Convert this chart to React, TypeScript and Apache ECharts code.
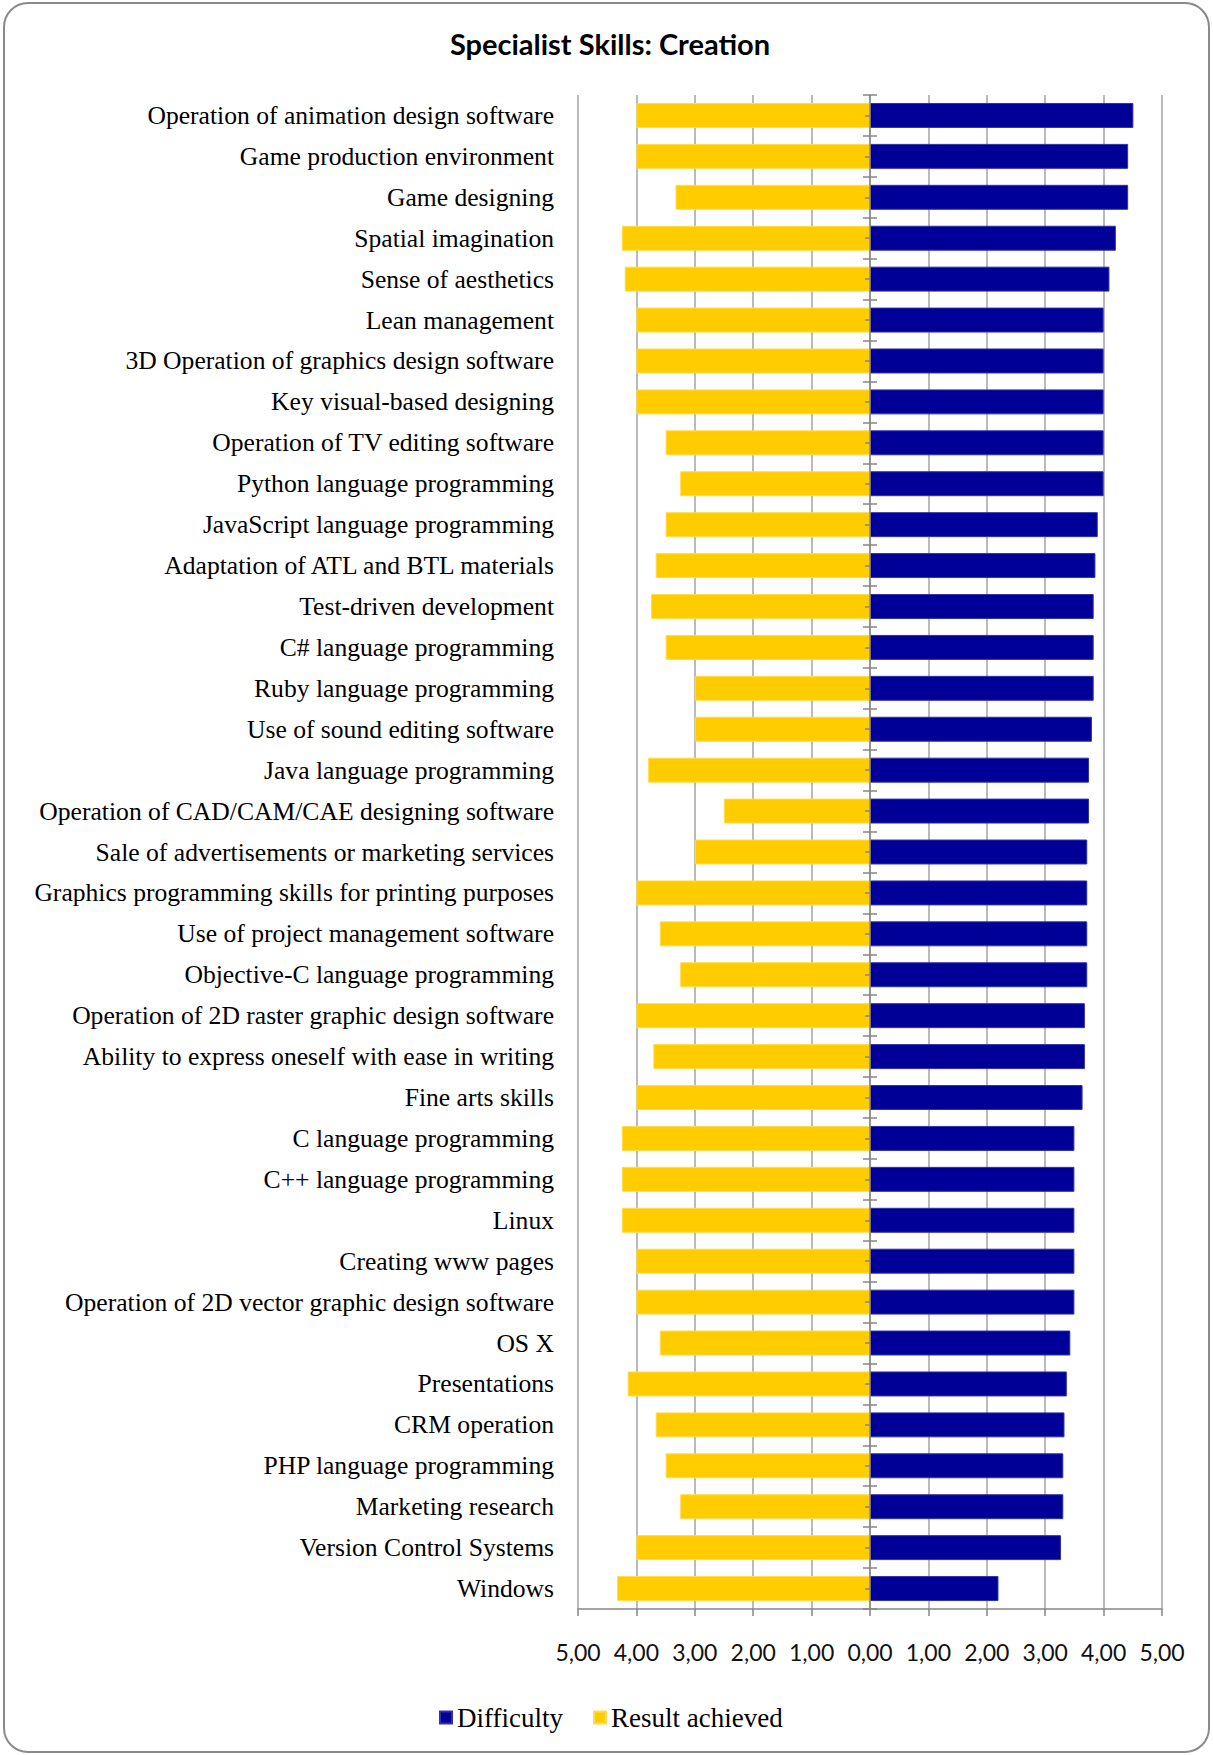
import React, { useEffect, useRef } from "react";
import * as echarts from "echarts";

// Skills, listed from top to bottom
const skills = [
  "Operation of animation design software",
  "Game production environment",
  "Game designing",
  "Spatial imagination",
  "Sense of aesthetics",
  "Lean management",
  "3D Operation of graphics design software",
  "Key visual-based designing",
  "Operation of TV editing software",
  "Python language programming",
  "JavaScript language programming",
  "Adaptation of ATL and BTL materials",
  "Test-driven development",
  "C# language programming",
  "Ruby language programming",
  "Use of sound editing software",
  "Java language programming",
  "Operation of CAD/CAM/CAE designing software",
  "Sale of advertisements or marketing services",
  "Graphics programming skills for printing purposes",
  "Use of project management software",
  "Objective-C language programming",
  "Operation of 2D raster graphic design software",
  "Ability to express oneself with ease in writing",
  "Fine arts skills",
  "C language programming",
  "C++ language programming",
  "Linux",
  "Creating www pages",
  "Operation of 2D vector graphic design software",
  "OS X",
  "Presentations",
  "CRM operation",
  "PHP language programming",
  "Marketing research",
  "Version Control Systems",
  "Windows",
];

const difficulty = [
  4.51, 4.42, 4.42, 4.21, 4.1, 4.0, 4.0, 4.0, 4.0, 4.0, 3.9, 3.86, 3.83, 3.83,
  3.83, 3.8, 3.75, 3.75, 3.72, 3.72, 3.72, 3.72, 3.68, 3.68, 3.64, 3.5, 3.5, 3.5,
  3.5, 3.5, 3.43, 3.37, 3.33, 3.31, 3.31, 3.27, 2.2,
];

const resultAchieved = [
  4.0, 4.0, 3.33, 4.25, 4.2, 4.0, 4.0, 4.0, 3.5, 3.25, 3.5, 3.67, 3.75, 3.5, 3.0,
  3.0, 3.8, 2.5, 3.0, 4.0, 3.6, 3.25, 4.0, 3.71, 4.0, 4.25, 4.25, 4.25, 4.0, 4.0,
  3.6, 4.15, 3.67, 3.5, 3.25, 4.0, 4.33,
];

const seriesNames = ["Difficulty", "Result achieved"];
const scaleMin = -5;
const scaleMax = 5;
const scaleStep = 1;

const SERIF = "'Liberation Serif', 'Times New Roman', serif";
const SANS = "Lato, 'Noto Sans', sans-serif";
const GRID_COLOR = "#a3a3a3";
const AXIS_COLOR = "#868686";

const formatTick = (v: number) => Math.abs(v).toFixed(2).replace(".", ",");

export default function App() {
  const ref = useRef<HTMLDivElement>(null);

  useEffect(() => {
    document.body.style.margin = "0";
    const chart = echarts.init(ref.current!, null, { renderer: "svg" });

    const centreAxis = (extra: any) => ({
      type: "category",
      data: skills,
      inverse: true,
      position: "left",
      z: 5,
      axisLabel: { show: false },
      splitLine: { show: false },
      ...extra,
    });

    chart.setOption({
      animation: false,
      backgroundColor: "#ffffff",
      graphic: [
        {
          type: "rect",
          silent: true,
          shape: { x: 4, y: 3, width: 1205, height: 1749, r: 24 },
          style: { fill: "none", stroke: "#8a8a8a", lineWidth: 2 },
        },
        {
          type: "text",
          x: 610,
          y: 43,
          style: {
            text: "Specialist Skills: Creation",
            fontFamily: SANS,
            fontWeight: "bold",
            fontSize: 29,
            fill: "#000000",
            align: "center",
            verticalAlign: "middle",
          },
        },
      ],
      legend: {
        data: seriesNames,
        left: 439,
        top: 1704,
        padding: 0,
        icon: "rect",
        itemWidth: 12,
        itemHeight: 12,
        itemGap: 30,
        textStyle: { fontFamily: SERIF, fontSize: 27, color: "#000000" },
      },
      grid: { left: 578, right: 51, top: 95, bottom: 146, containLabel: false },
      xAxis: {
        type: "value",
        min: scaleMin,
        max: scaleMax,
        interval: scaleStep,
        axisLine: { show: true, lineStyle: { color: AXIS_COLOR, width: 1.5 } },
        axisTick: { show: true, length: 7, lineStyle: { color: AXIS_COLOR, width: 1.5 } },
        axisLabel: {
          formatter: formatTick,
          fontFamily: SANS,
          fontSize: 23,
          color: "#111111",
          margin: 31,
        },
        splitLine: { show: true, lineStyle: { color: GRID_COLOR, width: 1.5 } },
      },
      yAxis: [
        {
          type: "category",
          data: skills,
          inverse: true,
          position: "left",
          axisLine: { show: false, onZero: false },
          axisTick: { show: false },
          axisLabel: {
            fontFamily: SERIF,
            fontSize: 25.6,
            color: "#000000",
            margin: 24,
          },
          splitLine: { show: false },
        },
        // centre line with cross ticks between categories
        centreAxis({
          axisLine: { show: true, onZero: true, onZeroAxisIndex: 0, lineStyle: { color: AXIS_COLOR, width: 1.5 } },
          axisTick: { show: true, length: 7, lineStyle: { color: AXIS_COLOR, width: 1.5 } },
        }),
        centreAxis({
          axisLine: { show: false, onZero: true, onZeroAxisIndex: 0 },
          axisTick: { show: true, inside: true, length: 7, lineStyle: { color: AXIS_COLOR, width: 1.5 } },
        }),
        centreAxis({
          axisLine: { show: false, onZero: true, onZeroAxisIndex: 0 },
          axisTick: { show: true, alignWithLabel: true, length: 5, lineStyle: { color: AXIS_COLOR, width: 1.5 } },
        }),
      ],
      series: [
        {
          name: seriesNames[0],
          type: "bar",
          stack: "row",
          yAxisIndex: 0,
          barWidth: "61%",
          data: difficulty,
          itemStyle: { color: "#000099", borderColor: "#3030a8", borderWidth: 1 },
        },
        {
          name: seriesNames[1],
          type: "bar",
          stack: "row",
          yAxisIndex: 0,
          barWidth: "61%",
          data: resultAchieved.map((v) => -v),
          itemStyle: { color: "#ffcc00", borderColor: "#ffdc50", borderWidth: 1 },
        },
      ],
    });

    return () => chart.dispose();
  }, []);

  return <div ref={ref} style={{ width: 1213, height: 1755 }} />;
}
